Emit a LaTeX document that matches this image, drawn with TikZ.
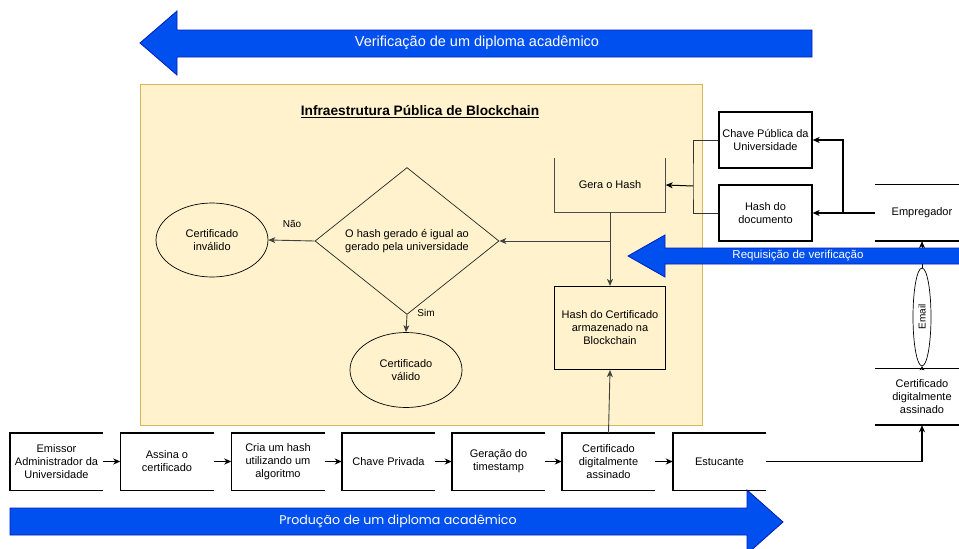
\documentclass[tikz,border=0pt]{standalone}
\usepackage{fontspec}
\setmainfont{Liberation Sans}
\newfontfamily\popfont{Poppins}
\usetikzlibrary{arrows.meta,shapes.geometric,calc}

\definecolor{bigblue}{HTML}{0050EF}
\definecolor{blueedge}{HTML}{001DBC}
\definecolor{panelfill}{HTML}{FFF2CC}
\definecolor{paneledge}{HTML}{D6B656}

\tikzset{
  txt/.style={font=\fontsize{11}{13}\selectfont, align=center, inner sep=0pt},
  flowbox/.style={txt, minimum width=93pt, minimum height=57pt},
  openedge/.style={draw=black, line width=1.4pt},
  fullbox/.style={txt, draw=black, line width=1.2pt},
  oval/.style={txt, ellipse, draw=black, line width=0.7pt},
  tip/.style={-{Stealth[length=7pt,width=6pt,inset=2pt]}},
  link/.style={draw=black, line width=1.4pt, tip},
  thinlink/.style={draw=black!75, line width=0.9pt, tip},
  bluearrow/.style={fill=bigblue, draw=blueedge, line width=0.8pt},
  bluetext/.style={text=white, inner sep=0pt},
  tag/.style={font=\fontsize{10}{12}\selectfont, inner sep=0pt}
}

\begin{document}
\begin{tikzpicture}[x=1pt,y=-1pt]
\useasboundingbox (0,0) rectangle (959,549);

% verification banner (points left)
\draw[bluearrow] (140,43) -- (177,11) -- (177,30) -- (812,30) -- (812,57)
  -- (177,57) -- (177,75) -- cycle;
\node[bluetext, font=\fontsize{14.5}{16}\selectfont] (vtitle) at (477,43)
  {Verificação de um diploma acadêmico};

% blockchain panel
\draw[fill=panelfill, draw=paneledge, line width=0.9pt] (140,84) rectangle (702,425);
\node[inner sep=0pt, font=\fontsize{13.7}{16}\selectfont\bfseries] (ptitle) at (420,112)
  {\underline{Infraestrutura Pública de Blockchain}};

% decision and outcomes
\node[txt, diamond, draw=black!85, line width=0.7pt, minimum width=184pt,
  minimum height=120pt] (dia) at (407,241)
  {O hash gerado é igual ao\\gerado pela universidade};
\node[oval, minimum width=112pt, minimum height=74pt] (inval) at (212,240)
  {Certificado\\inválido};
\node[oval, minimum width=112pt, minimum height=75pt] (valid) at (406,370)
  {Certificado\\válido};

% hashing inside the blockchain
\node[txt, minimum width=111pt, minimum height=54pt] (gera) at (610,185) {Gera o Hash};
\draw[draw=black!70, line width=1pt] (gera.north west) -- (gera.south west)
  -- (gera.south east) -- (gera.north east);
\node[fullbox, minimum width=111pt, minimum height=83pt] (hashcert) at (610,328)
  {Hash do Certificado\\armazenado na\\Blockchain};

\draw[thinlink] (gera.south) -- (hashcert.north);
\draw[thinlink] (gera.south |- dia.east) -- (dia.east);
\draw[thinlink] (dia.west) -- (inval.east);
\node[tag] (nao) at (292,224) {Não};
\draw[thinlink] (dia.south) -- (valid.north);
\node[tag] (sim) at (426,313) {Sim};

% employer side
\node[fullbox, minimum width=93pt, minimum height=56pt] (chave) at (765.5,140)
  {Chave Pública da\\Universidade};
\node[fullbox, minimum width=93pt, minimum height=56pt] (hashdoc) at (765.5,213)
  {Hash do\\documento};
\coordinate (merge) at (693,186);
\draw[draw=black!80, line width=1pt] (chave.west) -| (merge) |- (hashdoc.west);
\draw[link, line width=1pt] (merge) -- (gera.east);

\node[txt, minimum width=94pt, minimum height=56pt] (emp) at (922,213) {Empregador};
\draw[line width=1pt] (emp.north west) -- (emp.north east);
\draw[line width=1.7pt] (emp.south west) -- (emp.south east);
\coordinate (split) at (843,213);
\draw[link] (emp.west) -- (hashdoc.east);
\draw[link] (split) |- (chave.east);

\node[txt, minimum width=94pt, minimum height=56pt] (cert8) at (922,397)
  {Certificado\\digitalmente\\assinado};
\draw[line width=1pt] (cert8.north west) -- (cert8.north east);
\draw[line width=1.7pt] (cert8.south west) -- (cert8.south east);

\node[oval, minimum width=18pt, minimum height=98pt, font=\fontsize{10}{12}\selectfont]
  (mail) at (922,317) {\rotatebox{90}{Email}};
\draw[link, line width=1pt] (mail.north) -- (emp.south);
\draw[draw=black, line width=1pt, -{Stealth[length=4pt,width=5pt]}] (cert8.north) -- (mail.south);

% request banner (points left)
\draw[bluearrow] (628,256) -- (665,235) -- (665,248) -- (962,248) -- (962,264)
  -- (665,264) -- (665,277) -- cycle;
\node[bluetext, font=\fontsize{11.5}{13}\selectfont] (rtitle) at (798,256)
  {Requisição de verificação};

% production chain
\node[flowbox] (s1) at (56.5,461.5) {Emissor\\Administrador da\\Universidade};
\node[flowbox] (s2) at (167,461.5) {Assina o\\certificado};
\node[flowbox] (s3) at (278,461.5) {Cria um hash\\utilizando um\\algoritmo};
\node[flowbox] (s4) at (388.5,461.5) {Chave Privada};
\node[flowbox] (s5) at (498.5,461.5) {Geração do\\timestamp};
\node[flowbox] (s6) at (608.5,461.5) {Certificado\\digitalmente\\assinado};
\node[flowbox] (s7) at (719.5,461.5) {Estucante};
\foreach \n in {s1,s2,s3,s4,s5,s6,s7}
  \draw[openedge] (\n.north east) -- (\n.north west) -- (\n.south west) -- (\n.south east);
\foreach \a/\b in {s1/s2,s2/s3,s3/s4,s4/s5,s5/s6,s6/s7}
  \draw[link] (\a.east) -- (\b.west);

\draw[thinlink] (s6.north) -- (hashcert.south);
\draw[link] (s7.east) -| (cert8.south);

% production banner (points right)
\draw[bluearrow] (10,508) -- (747,508) -- (747,490) -- (783,522) -- (747,554)
  -- (747,535) -- (10,535) -- cycle;
\node[bluetext, font=\popfont\fontsize{12.6}{14}\selectfont] (ptext) at (398,521)
  {Produção de um diploma acadêmico};
\end{tikzpicture}
\end{document}
